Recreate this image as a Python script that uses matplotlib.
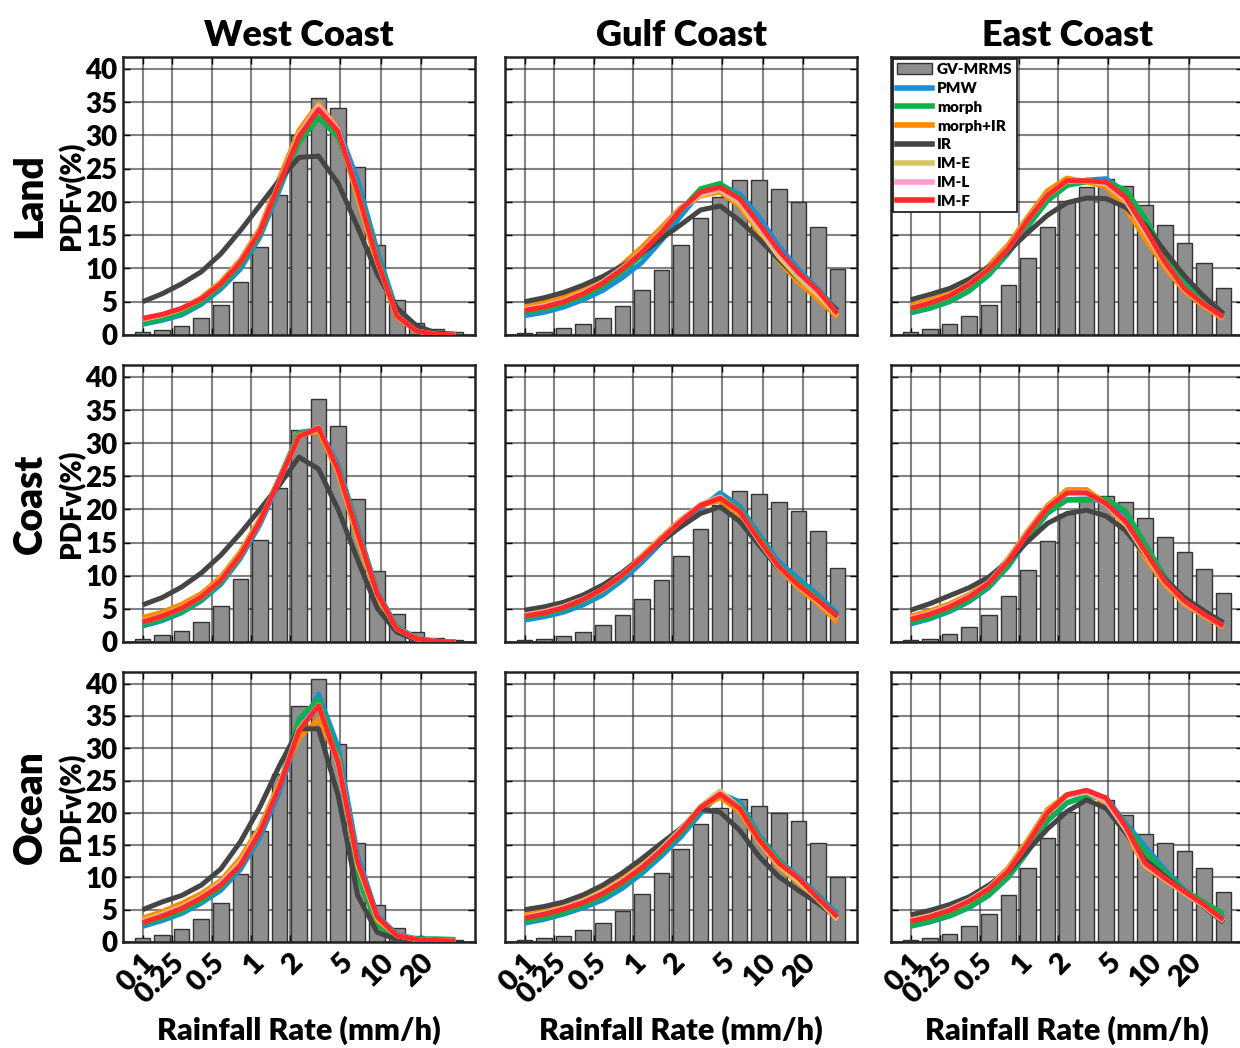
import matplotlib
matplotlib.use("Agg")
import matplotlib.pyplot as plt
from matplotlib.patches import Patch
from matplotlib.lines import Line2D
from matplotlib.transforms import ScaledTranslation
import numpy as np

plt.rcParams['font.family'] = ['Lato', 'DejaVu Sans']
plt.rcParams['font.weight'] = 'heavy'

# rain-rate bins (bar index) and tick labels
bins = np.arange(17)
tick_pos = [0, 1.5, 3.55, 5.55, 7.55, 10.12, 12.2, 14.25]
tick_labels = ['0.1', '0.25', '0.5', '1', '2', '5', '10', '20']

regions = ['West Coast', 'Gulf Coast', 'East Coast']
surfaces = ['Land', 'Coast', 'Ocean']
products = ['PMW', 'morph', 'morph+IR', 'IR', 'IM-E', 'IM-L', 'IM-F']
colors = ['#1a8fd6', '#10b04a', '#ff8c00', '#454545', '#d9c463', '#ff9ccf', '#ff2a2a']

# ---- West Coast ----
west_land_gv = [0.45, 0.7, 1.35, 2.5, 4.5, 8.0, 13.3, 21.1, 30.1, 35.6, 34.2, 25.3, 13.5, 5.2, 1.8, 0.85, 0.4]
west_land_pmw = [1.6, 2.2, 3.0, 4.6, 6.9, 9.9, 14.7, 21.8, 29.3, 32.6, 31.2, 23.3, 12.7, 3.6, 1.0, 0.2, 0.1]
west_land_morph = [1.8, 2.4, 3.3, 4.9, 7.3, 10.5, 15.2, 22.4, 29.0, 32.6, 29.8, 22.0, 11.8, 3.2, 0.8, 0.2, 0.1]
west_land_morphir = [2.3, 3.0, 4.0, 5.6, 8.0, 11.3, 16.0, 23.6, 30.8, 34.8, 31.0, 20.5, 10.5, 2.7, 0.6, 0.1, 0.0]
west_land_ir = [5.0, 6.2, 7.7, 9.5, 12.2, 15.7, 19.5, 23.3, 26.7, 26.9, 22.8, 16.2, 9.2, 4.1, 1.4, 0.3, 0.1]
west_land_ime = [2.4, 3.0, 3.9, 5.4, 7.8, 11.0, 15.6, 23.0, 30.2, 34.5, 30.8, 21.2, 11.0, 2.9, 0.6, 0.1, 0.0]
west_land_iml = [2.4, 3.0, 4.0, 5.4, 7.7, 11.0, 15.6, 22.9, 30.0, 34.3, 30.8, 21.5, 11.2, 2.9, 0.6, 0.1, 0.0]
west_land_imf = [2.5, 3.1, 4.0, 5.4, 7.7, 10.9, 15.5, 22.8, 29.8, 33.9, 30.6, 21.5, 11.2, 2.9, 0.6, 0.1, 0.0]

west_coast_gv = [0.5, 1.0, 1.7, 3.0, 5.5, 9.5, 15.4, 23.2, 32.0, 36.6, 32.6, 21.6, 10.7, 4.3, 1.5, 0.6, 0.3]
west_coast_pmw = [2.4, 3.2, 4.4, 6.2, 8.7, 12.6, 17.7, 24.2, 31.6, 32.1, 26.8, 17.2, 7.6, 2.3, 0.6, 0.1, 0.0]
west_coast_morph = [2.6, 3.4, 4.6, 6.4, 9.0, 12.9, 18.2, 24.8, 31.5, 31.8, 26.3, 16.8, 7.4, 2.2, 0.5, 0.1, 0.0]
west_coast_morphir = [3.7, 4.5, 5.7, 7.3, 9.8, 13.6, 18.6, 24.5, 31.2, 31.8, 25.5, 15.4, 6.8, 2.0, 0.5, 0.1, 0.0]
west_coast_ir = [5.6, 6.7, 8.3, 10.4, 13.1, 16.4, 20.0, 23.7, 27.9, 26.1, 20.0, 12.4, 5.1, 1.5, 0.3, 0.0, 0.0]
west_coast_ime = [3.1, 4.0, 5.2, 6.9, 9.4, 13.2, 18.3, 24.5, 31.0, 32.2, 25.8, 16.0, 7.1, 2.0, 0.5, 0.1, 0.0]
west_coast_iml = [3.0, 3.9, 5.1, 6.8, 9.3, 13.1, 18.2, 24.5, 31.0, 32.4, 26.0, 16.4, 7.3, 2.0, 0.5, 0.1, 0.0]
west_coast_imf = [3.0, 3.9, 5.1, 6.8, 9.3, 13.1, 18.2, 24.5, 31.0, 32.3, 26.0, 16.4, 7.3, 2.0, 0.5, 0.1, 0.0]

west_ocean_gv = [0.6, 1.1, 2.0, 3.5, 6.0, 10.6, 17.2, 26.0, 36.5, 40.7, 30.7, 15.3, 5.8, 2.1, 1.0, 0.5, 0.25]
west_ocean_pmw = [2.4, 3.3, 4.4, 6.0, 8.0, 11.2, 16.2, 23.2, 32.5, 38.4, 30.2, 13.4, 4.1, 1.2, 0.5, 0.3, 0.25]
west_ocean_morph = [2.8, 3.7, 4.8, 6.4, 8.5, 11.8, 16.9, 24.2, 34.5, 37.6, 28.9, 10.3, 2.6, 0.8, 0.5, 0.5, 0.4]
west_ocean_morphir = [3.7, 4.7, 6.0, 7.5, 9.5, 13.0, 17.8, 24.7, 31.7, 34.5, 28.4, 11.9, 3.4, 1.0, 0.4, 0.2, 0.1]
west_ocean_ir = [5.0, 6.2, 7.2, 8.8, 11.3, 15.5, 20.9, 27.3, 33.0, 33.0, 22.7, 7.2, 1.5, 0.4, 0.1, 0.1, 0.0]
west_ocean_ime = [3.3, 4.3, 5.5, 7.0, 9.2, 12.4, 17.3, 24.3, 33.0, 36.5, 27.5, 12.0, 3.7, 1.0, 0.4, 0.2, 0.1]
west_ocean_iml = [3.1, 4.1, 5.3, 6.9, 9.0, 12.1, 17.1, 24.1, 32.8, 36.7, 27.8, 12.3, 3.8, 1.0, 0.4, 0.2, 0.1]
west_ocean_imf = [3.0, 4.0, 5.2, 6.8, 8.8, 11.9, 17.0, 24.0, 32.7, 36.6, 27.8, 12.4, 3.9, 1.0, 0.4, 0.25, 0.1]

# ---- Gulf Coast ----
gulf_land_gv = [0.35, 0.5, 1.0, 1.6, 2.6, 4.4, 6.7, 9.8, 13.5, 17.6, 20.8, 23.3, 23.3, 22.0, 20.0, 16.2, 9.9]
gulf_land_pmw = [2.9, 3.4, 4.2, 5.3, 6.7, 8.6, 10.9, 14.2, 17.9, 21.5, 22.6, 21.2, 17.7, 13.4, 9.9, 6.9, 3.7]
gulf_land_morph = [3.4, 3.9, 4.7, 5.8, 7.4, 9.5, 12.0, 15.2, 18.8, 22.0, 22.8, 20.6, 16.5, 12.4, 9.2, 6.4, 3.2]
gulf_land_morphir = [4.3, 4.9, 5.7, 6.9, 8.4, 10.6, 13.2, 16.2, 19.2, 20.9, 21.5, 19.4, 15.4, 11.2, 7.9, 5.4, 2.7]
gulf_land_ir = [5.0, 5.6, 6.4, 7.5, 8.8, 10.4, 12.3, 14.5, 16.6, 18.8, 19.4, 17.2, 14.4, 11.4, 8.5, 6.2, 3.7]
gulf_land_ime = [3.9, 4.4, 5.2, 6.4, 8.0, 10.1, 12.6, 15.6, 19.0, 21.0, 21.8, 19.8, 15.8, 11.8, 8.6, 6.0, 3.0]
gulf_land_iml = [3.8, 4.3, 5.1, 6.3, 7.9, 10.0, 12.5, 15.5, 19.0, 21.3, 22.0, 20.3, 16.4, 12.4, 9.2, 6.5, 3.2]
gulf_land_imf = [3.7, 4.2, 5.0, 6.2, 7.8, 9.9, 12.4, 15.4, 18.9, 21.5, 22.2, 20.5, 16.7, 12.7, 9.4, 6.7, 3.2]

gulf_coast_gv = [0.25, 0.45, 0.85, 1.5, 2.5, 4.1, 6.5, 9.4, 13.0, 17.0, 20.6, 22.8, 22.4, 21.2, 19.8, 16.8, 11.2]
gulf_coast_pmw = [3.3, 3.8, 4.5, 5.6, 7.1, 9.3, 12.0, 15.0, 17.8, 20.2, 22.5, 20.5, 16.2, 12.1, 9.6, 7.1, 4.3]
gulf_coast_morph = [3.7, 4.2, 5.0, 6.2, 7.7, 9.9, 12.6, 15.5, 18.3, 20.6, 22.0, 20.0, 15.8, 11.6, 9.0, 6.6, 3.9]
gulf_coast_morphir = [4.3, 4.9, 5.7, 6.8, 8.3, 10.4, 13.0, 15.8, 18.5, 20.6, 21.3, 19.2, 15.0, 11.0, 8.2, 5.8, 3.0]
gulf_coast_ir = [4.8, 5.3, 6.0, 7.1, 8.6, 10.5, 12.8, 15.2, 17.4, 19.4, 20.4, 18.2, 14.6, 11.1, 8.6, 6.3, 4.0]
gulf_coast_ime = [4.1, 4.6, 5.4, 6.5, 8.0, 10.2, 12.8, 15.6, 18.4, 20.8, 21.9, 19.6, 15.2, 11.2, 8.5, 6.1, 3.6]
gulf_coast_iml = [4.0, 4.5, 5.3, 6.4, 7.9, 10.1, 12.7, 15.5, 18.3, 20.7, 21.8, 19.7, 15.4, 11.4, 8.6, 6.3, 3.8]
gulf_coast_imf = [3.9, 4.4, 5.2, 6.4, 8.0, 10.1, 12.7, 15.5, 18.2, 20.6, 21.7, 19.7, 15.4, 11.4, 8.6, 6.3, 3.8]

gulf_ocean_gv = [0.3, 0.55, 1.0, 1.8, 3.0, 4.8, 7.5, 10.7, 14.4, 18.2, 20.8, 22.2, 21.1, 20.0, 18.8, 15.3, 10.1]
gulf_ocean_pmw = [2.9, 3.5, 4.3, 5.3, 6.5, 8.3, 10.6, 13.3, 16.3, 19.9, 23.0, 21.7, 16.5, 12.7, 10.1, 7.3, 4.4]
gulf_ocean_morph = [3.2, 3.8, 4.6, 5.7, 7.0, 8.9, 11.2, 13.9, 16.9, 20.4, 22.7, 21.2, 16.2, 12.5, 9.9, 7.0, 4.0]
gulf_ocean_morphir = [4.3, 4.9, 5.7, 6.7, 8.1, 9.9, 12.1, 14.6, 17.5, 20.7, 22.4, 20.2, 15.4, 11.6, 9.2, 6.4, 3.5]
gulf_ocean_ir = [5.0, 5.5, 6.2, 7.3, 8.8, 10.7, 12.9, 15.3, 17.6, 20.6, 20.1, 17.3, 13.2, 10.1, 8.0, 6.0, 3.7]
gulf_ocean_ime = [3.9, 4.5, 5.3, 6.4, 7.8, 9.6, 11.8, 14.5, 17.5, 21.0, 23.4, 20.8, 15.6, 11.9, 9.4, 6.6, 3.5]
gulf_ocean_iml = [3.8, 4.4, 5.2, 6.2, 7.6, 9.4, 11.6, 14.3, 17.3, 20.8, 23.0, 20.7, 15.8, 12.2, 9.9, 6.8, 3.9]
gulf_ocean_imf = [3.7, 4.3, 5.1, 6.1, 7.5, 9.3, 11.5, 14.2, 17.2, 20.8, 22.9, 20.7, 15.8, 12.2, 9.9, 6.8, 3.9]

# ---- East Coast ----
east_land_gv = [0.5, 0.9, 1.6, 2.8, 4.5, 7.5, 11.6, 16.2, 20.2, 22.3, 23.4, 22.4, 19.5, 16.5, 13.9, 10.8, 7.1]
east_land_pmw = [3.3, 4.0, 5.0, 6.6, 9.0, 12.3, 16.3, 20.2, 22.5, 23.3, 23.5, 21.5, 17.0, 11.8, 7.8, 5.2, 3.0]
east_land_morph = [3.4, 4.1, 5.1, 6.7, 9.1, 12.4, 16.4, 20.2, 22.5, 23.0, 23.0, 21.8, 17.6, 12.0, 7.6, 5.0, 2.8]
east_land_morphir = [4.5, 5.3, 6.4, 8.1, 10.4, 13.6, 17.8, 21.7, 23.6, 23.0, 22.3, 19.0, 14.5, 10.2, 6.6, 4.3, 2.4]
east_land_ir = [5.3, 6.1, 7.0, 8.4, 10.2, 12.6, 15.4, 18.0, 19.9, 20.6, 20.5, 19.2, 16.5, 12.6, 8.9, 5.8, 3.2]
east_land_ime = [4.1, 4.9, 6.0, 7.7, 10.0, 13.1, 17.4, 21.1, 23.2, 23.2, 22.7, 20.2, 15.4, 10.7, 6.9, 4.5, 2.6]
east_land_iml = [4.0, 4.8, 5.9, 7.6, 9.9, 13.0, 17.3, 21.0, 23.1, 23.2, 22.9, 20.5, 15.8, 10.9, 7.0, 4.6, 2.6]
east_land_imf = [4.0, 4.8, 5.9, 7.6, 9.9, 13.0, 17.3, 21.0, 23.2, 23.2, 23.0, 20.7, 16.0, 11.0, 7.0, 4.6, 2.7]

east_coast_gv = [0.25, 0.5, 1.2, 2.3, 4.0, 7.0, 10.9, 15.2, 19.3, 21.4, 22.0, 21.2, 18.7, 15.9, 13.6, 11.0, 7.4]
east_coast_pmw = [2.7, 3.5, 4.6, 6.1, 8.2, 11.4, 15.6, 19.4, 21.5, 21.6, 21.2, 19.5, 14.8, 9.8, 6.4, 4.2, 2.5]
east_coast_morph = [2.9, 3.7, 4.8, 6.3, 8.4, 11.6, 15.8, 19.5, 21.4, 21.4, 21.6, 19.8, 14.7, 9.7, 6.4, 4.2, 2.4]
east_coast_morphir = [3.9, 4.7, 5.8, 7.2, 9.2, 12.6, 16.8, 20.6, 23.0, 23.0, 20.9, 17.3, 12.7, 8.7, 5.7, 3.9, 2.2]
east_coast_ir = [4.8, 5.8, 7.0, 8.2, 9.8, 12.2, 15.2, 17.9, 19.4, 19.9, 19.0, 16.8, 13.2, 9.5, 6.7, 4.7, 2.9]
east_coast_ime = [3.6, 4.4, 5.5, 7.0, 9.0, 12.3, 16.5, 20.3, 22.6, 22.6, 20.8, 17.8, 13.3, 9.0, 6.0, 4.1, 2.3]
east_coast_iml = [3.5, 4.3, 5.4, 6.9, 9.0, 12.3, 16.5, 20.3, 22.5, 22.5, 20.8, 18.0, 13.5, 9.1, 6.1, 4.1, 2.4]
east_coast_imf = [3.4, 4.2, 5.3, 6.8, 8.9, 12.2, 16.4, 20.2, 22.5, 22.5, 20.9, 18.2, 13.7, 9.2, 6.2, 4.2, 2.4]

east_ocean_gv = [0.35, 0.6, 1.2, 2.4, 4.3, 7.3, 11.4, 16.1, 20.1, 21.8, 22.0, 19.6, 16.7, 15.4, 14.1, 11.4, 7.8]
east_ocean_pmw = [2.4, 3.1, 4.0, 5.3, 7.2, 10.0, 14.0, 18.7, 21.5, 22.5, 22.3, 18.4, 14.8, 11.2, 8.1, 6.0, 4.0]
east_ocean_morph = [2.5, 3.2, 4.1, 5.4, 7.3, 10.1, 14.1, 18.8, 21.6, 22.6, 22.2, 18.0, 14.0, 10.8, 8.0, 6.2, 4.4]
east_ocean_morphir = [4.0, 4.6, 5.5, 6.8, 8.6, 11.5, 15.8, 20.5, 22.8, 23.3, 21.5, 16.9, 11.7, 9.6, 7.6, 5.5, 3.2]
east_ocean_ir = [4.2, 4.9, 5.8, 7.0, 8.8, 10.9, 14.2, 17.5, 20.2, 22.0, 20.7, 16.9, 12.7, 10.2, 7.8, 5.5, 3.0]
east_ocean_ime = [3.4, 4.1, 5.1, 6.5, 8.4, 11.2, 15.4, 20.1, 22.6, 23.2, 21.8, 17.4, 11.9, 9.7, 7.6, 5.6, 3.2]
east_ocean_iml = [3.3, 4.0, 5.0, 6.4, 8.3, 11.1, 15.3, 20.0, 22.6, 23.3, 22.0, 17.6, 12.0, 9.8, 7.7, 5.7, 3.3]
east_ocean_imf = [3.2, 3.9, 4.9, 6.3, 8.2, 11.0, 15.3, 20.0, 22.8, 23.5, 22.3, 17.9, 12.2, 9.9, 7.8, 5.8, 3.4]

panels = {
    ('West Coast', 'Land'): (west_land_gv, [west_land_pmw, west_land_morph, west_land_morphir, west_land_ir,
                                            west_land_ime, west_land_iml, west_land_imf]),
    ('West Coast', 'Coast'): (west_coast_gv, [west_coast_pmw, west_coast_morph, west_coast_morphir, west_coast_ir,
                                              west_coast_ime, west_coast_iml, west_coast_imf]),
    ('West Coast', 'Ocean'): (west_ocean_gv, [west_ocean_pmw, west_ocean_morph, west_ocean_morphir, west_ocean_ir,
                                              west_ocean_ime, west_ocean_iml, west_ocean_imf]),
    ('Gulf Coast', 'Land'): (gulf_land_gv, [gulf_land_pmw, gulf_land_morph, gulf_land_morphir, gulf_land_ir,
                                            gulf_land_ime, gulf_land_iml, gulf_land_imf]),
    ('Gulf Coast', 'Coast'): (gulf_coast_gv, [gulf_coast_pmw, gulf_coast_morph, gulf_coast_morphir, gulf_coast_ir,
                                              gulf_coast_ime, gulf_coast_iml, gulf_coast_imf]),
    ('Gulf Coast', 'Ocean'): (gulf_ocean_gv, [gulf_ocean_pmw, gulf_ocean_morph, gulf_ocean_morphir, gulf_ocean_ir,
                                              gulf_ocean_ime, gulf_ocean_iml, gulf_ocean_imf]),
    ('East Coast', 'Land'): (east_land_gv, [east_land_pmw, east_land_morph, east_land_morphir, east_land_ir,
                                            east_land_ime, east_land_iml, east_land_imf]),
    ('East Coast', 'Coast'): (east_coast_gv, [east_coast_pmw, east_coast_morph, east_coast_morphir, east_coast_ir,
                                              east_coast_ime, east_coast_iml, east_coast_imf]),
    ('East Coast', 'Ocean'): (east_ocean_gv, [east_ocean_pmw, east_ocean_morph, east_ocean_morphir, east_ocean_ir,
                                              east_ocean_ime, east_ocean_iml, east_ocean_imf]),
}

W, H = 1240, 1048
col_left = [123, 505, 891]
col_width = 352
row_top = [57, 365, 672]
row_bottom = [335, 642, 942]
bar_color = '#8e8e8e'


def style_axes(ax, show_x, show_y):
    ax.set_xlim(-1, 17)
    ax.set_ylim(0, 41.8)
    ax.set_xticks(tick_pos)
    ax.set_yticks(np.arange(0, 41, 5))
    ax.tick_params(axis='both', direction='in', length=5, width=1,
                   top=True, right=True, pad=4)
    ax.tick_params(axis='x', pad=10)
    if show_x:
        ax.set_xticklabels(tick_labels, rotation=45, ha='right', va='center',
                           rotation_mode='anchor', fontsize=21,
                           fontweight='heavy')
        # MATLAB-style: rotated labels sit a little right of the tick
        shift = ScaledTranslation(6 / 72, -2 / 72, ax.figure.dpi_scale_trans)
        for lab in ax.get_xticklabels():
            lab.set_transform(lab.get_transform() + shift)
    else:
        ax.set_xticklabels([])
    if show_y:
        ax.set_yticklabels([str(v) for v in range(0, 41, 5)], fontsize=20,
                           fontweight='heavy')
    else:
        ax.set_yticklabels([])
    ax.grid(True, color='#1e1e1e', alpha=0.55, linewidth=1.5)
    ax.set_axisbelow(True)
    for sp in ax.spines.values():
        sp.set_linewidth(1.8)
        sp.set_color('#222222')


def main():
    fig = plt.figure(figsize=(W / 100, H / 100), dpi=100)

    for c, region in enumerate(regions):
        for r, surface in enumerate(surfaces):
            l = col_left[c]
            t, b = row_top[r], row_bottom[r]
            ax = fig.add_axes([l / W, 1 - b / H, col_width / W, (b - t) / H])
            gv, lines = panels[(region, surface)]
            ax.bar(bins, gv, width=0.8, color=bar_color, edgecolor='#333333',
                   linewidth=1.0, zorder=2)
            for vals, col in zip(lines, colors):
                ax.plot(bins, vals, color=col, linewidth=3.6, zorder=3,
                        solid_joinstyle='round', solid_capstyle='butt')
            style_axes(ax, r == 2, c == 0)

            if r == 0:
                ax.set_title(region, fontsize=26, fontweight='heavy', pad=8)
            if r == 2:
                fig.text((l + col_width / 2) / W, 1 - 1030 / H,
                         'Rainfall Rate (mm/h)', ha='center', va='center',
                         fontsize=22, fontweight='heavy')
            if c == 0:
                ax.set_ylabel('PDFv(%)', fontsize=20, fontweight='heavy',
                              labelpad=0)
                fig.text(30 / W, 1 - ((t + b) / 2) / H, surface, rotation=90,
                         ha='center', va='center', fontsize=28,
                         fontweight='heavy')
            if c == 2 and r == 0:
                handles = [Patch(facecolor=bar_color, edgecolor='#333333',
                                 label='GV-MRMS')]
                handles += [Line2D([0], [0], color=col, lw=4, label=p)
                            for p, col in zip(products, colors)]
                leg = ax.legend(handles=handles, loc='upper left',
                                prop={'size': 11, 'weight': 'heavy'},
                                fancybox=False, framealpha=1,
                                edgecolor='#222222', borderpad=0.3,
                                labelspacing=0.38, handlelength=2.3,
                                handletextpad=0.3, borderaxespad=0.1)
                leg.get_frame().set_linewidth(1.3)

    fig.savefig('out.png', dpi=100)


if __name__ == '__main__':
    main()
